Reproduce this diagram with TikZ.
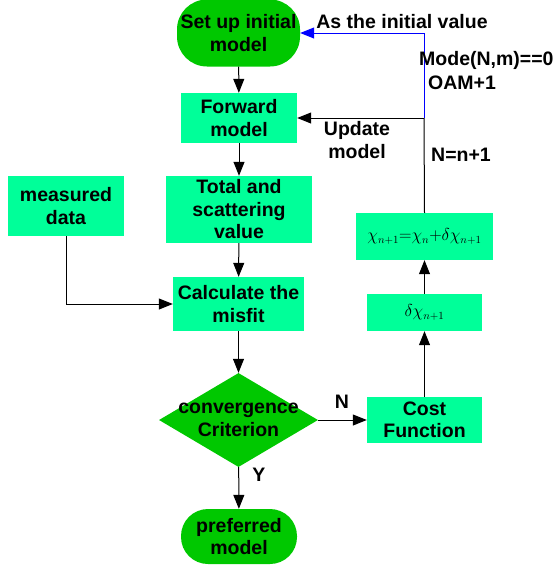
\documentclass[tikz,border=0pt]{standalone}
\usepackage{fontspec}
\setmainfont{Liberation Sans}
\usetikzlibrary{shapes.geometric, arrows.meta, positioning}
\definecolor{termgreen}{RGB}{0, 200, 0}
\definecolor{procgreen}{RGB}{0, 255, 153}
\definecolor{loopblue}{RGB}{0, 0, 255}

\begin{document}
\begin{tikzpicture}[x=1pt, y=-1pt,
    font=\fontsize{19.5}{22.5}\selectfont\bfseries,
    proc/.style={fill=procgreen, inner sep=0pt, align=center},
    term/.style={fill=termgreen, inner sep=0pt, align=center},
    flow/.style={-{Triangle[length=14pt, width=11pt]}, line width=1pt},
    lbl/.style={inner sep=0pt, align=center}]
  \useasboundingbox (0,0) rectangle (553,571);

  % main column
  \node[term, minimum width=123pt, minimum height=67pt, rounded corners=30pt] (setup) at (238.5,33) {Set up initial\\model};
  \node[proc, minimum width=116pt, minimum height=50pt] (forward) at (239,118) {Forward\\model};
  \node[proc, minimum width=146pt, minimum height=67pt] (total) at (239,209.5) {Total and\\scattering\\value};
  \node[proc, minimum width=131pt, minimum height=54pt] (misfit) at (238.5,304) {Calculate the\\misfit};
  \node[diamond, fill=termgreen, inner sep=0pt, aspect=1.69, minimum width=159pt, minimum height=94pt,
        label={[lbl]center:convergence\\Criterion}] (crit) at (238.5,420) {};
  \node[term, minimum width=116pt, minimum height=55pt, rounded corners=27pt] (pref) at (239,536.5) {preferred\\model};

  % side boxes
  \node[proc, minimum width=116pt, minimum height=60pt] (meas) at (66,206) {measured\\data};
  \node[proc, minimum width=115pt, minimum height=46pt] (cost) at (424.5,420) {Cost\\Function};
  \node[proc, minimum width=115pt, minimum height=37pt, font=\fontsize{16}{20}\selectfont] (delta) at (424.5,312.5) {$\delta\chi_{n+1}$};
  \node[proc, minimum width=137pt, minimum height=47pt, font=\fontsize{16}{20}\selectfont] (chi) at (424.5,236.5) {$\chi_{n+1}{=}\chi_n{+}\delta\chi_{n+1}$};

  \coordinate (split) at (424,118);

  % connectors
  \draw[flow] (setup) -- (forward);
  \draw[flow] (forward) -- (total);
  \draw[flow] (total) -- (misfit);
  \draw[flow] (meas.south) |- (misfit.west);
  \draw[flow] (misfit) -- (crit);
  \draw[flow] (crit) -- (pref);
  \draw[flow] (crit.east) -- (cost.west);
  \draw[flow] (cost) -- (delta);
  \draw[flow] (delta) -- (chi);
  \draw[line width=1pt] (chi.north) -- (split);
  \draw[flow] (split) -- (forward.east);
  \draw[flow, loopblue] (split) |- (setup.east);

  % labels
  \node[lbl] (initlbl) at (402,22) {As the initial value};
  \node[lbl, anchor=west] (modelbl) at (419,60) {Mode(N,m)==0};
  \node[lbl, anchor=west] (oamlbl) at (428,83) {OAM+1};
  \node[lbl] (updlbl) at (357,140) {Update\\model};
  \node[lbl, anchor=west] (nnlbl) at (431,155) {N=n+1};
  \node[lbl] (nlbl) at (342,402) {N};
  \node[lbl] (ylbl) at (259,475) {Y};
\end{tikzpicture}
\end{document}
